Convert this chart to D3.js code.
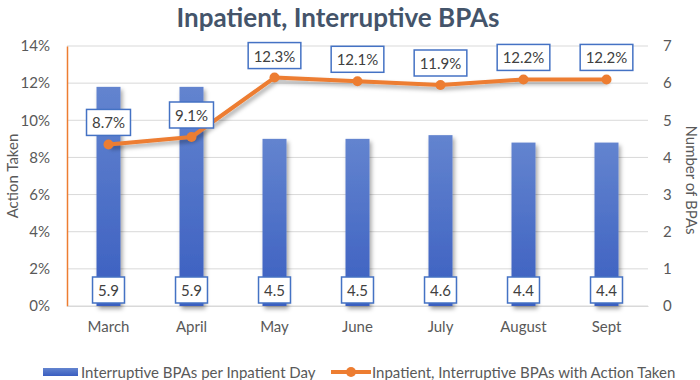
<!DOCTYPE html>
<html>
<head>
<meta charset="utf-8">
<script src="https://cdnjs.cloudflare.com/ajax/libs/d3/7.8.5/d3.min.js"></script>
<style>
  body { margin: 0; background: #fff; }
  svg { font-family: Lato, "Open Sans", sans-serif; }
</style>
</head>
<body>
<div id="plot"></div>
<script>
const months = ['March', 'April', 'May', 'June', 'July', 'August', 'Sept']
const bpasPerDay = [5.9, 5.9, 4.5, 4.5, 4.6, 4.4, 4.4]
const actionTaken = [8.7, 9.1, 12.3, 12.1, 11.9, 12.2, 12.2]
const leftTicks = [0, 2, 4, 6, 8, 10, 12, 14]
const rightTicks = [0, 1, 2, 3, 4, 5, 6, 7]
const barName = 'Interruptive BPAs per Inpatient Day'
const lineName = 'Inpatient, Interruptive BPAs with Action Taken'

const width = 700, height = 380
const plotL = 67, plotR = 648, plotT = 46, plotB = 306
const blue = '#4472C4', orange = '#ED7D31', textCol = '#595959'

const svg = d3.select('#plot').append('svg')
  .attr('width', width).attr('height', height)

const defs = svg.append('defs')
const grad = defs.append('linearGradient').attr('id', 'barGrad')
  .attr('x1', 0).attr('y1', 0).attr('x2', 0).attr('y2', 1)
grad.append('stop').attr('offset', '0%').attr('stop-color', '#6384cf')
grad.append('stop').attr('offset', '100%').attr('stop-color', '#3a5ec0')
const shadow = defs.append('filter').attr('id', 'shadow')
  .attr('x', '-20%').attr('y', '-20%').attr('width', '150%').attr('height', '150%')
shadow.append('feDropShadow').attr('dx', 2).attr('dy', 3).attr('stdDeviation', 2)
  .attr('flood-color', '#000').attr('flood-opacity', 0.35)

const x = d3.scaleBand().domain(months).range([plotL, plotR])
const yLeft = d3.scaleLinear().domain([0, 14]).range([plotB, plotT])
const yRight = d3.scaleLinear().domain([0, 7]).range([plotB, plotT])

// title
svg.append('text')
  .attr('x', 338).attr('y', 27)
  .attr('text-anchor', 'middle')
  .attr('font-size', 26).attr('font-weight', 'bold')
  .attr('fill', '#44546A')
  .text('Inpatient, Interruptive BPAs')

// gridlines
svg.append('g').selectAll('line').data(leftTicks).enter()
  .append('line')
  .attr('x1', plotL).attr('x2', plotR)
  .attr('y1', d => yLeft(d)).attr('y2', d => yLeft(d))
  .attr('stroke', '#d9d9d9').attr('stroke-width', 1)

// left axis
const gL = svg.append('g').attr('transform', 'translate(' + plotL + ',0)')
  .call(d3.axisLeft(yLeft).tickValues(leftTicks).tickSize(0).tickPadding(17).tickFormat(d => d + '%'))
gL.select('.domain').attr('stroke', orange).attr('stroke-width', 1.5)
gL.selectAll('text').attr('font-size', 15).attr('fill', textCol)

// right axis
const gR = svg.append('g').attr('transform', 'translate(' + plotR + ',0)')
  .call(d3.axisRight(yRight).tickValues(rightTicks).tickSize(0).tickPadding(15).tickFormat(d3.format('d')))
gR.select('.domain').remove()
gR.selectAll('text').attr('font-size', 15).attr('fill', textCol)

// bottom axis
const gB = svg.append('g').attr('transform', 'translate(0,' + plotB + ')')
  .call(d3.axisBottom(x).tickSize(0).tickPadding(15))
gB.select('.domain').attr('stroke', '#d9d9d9')
gB.selectAll('text').attr('font-size', 15).attr('fill', textCol)
gL.attr('font-family', null); gR.attr('font-family', null); gB.attr('font-family', null)

// axis titles
svg.append('text')
  .attr('transform', 'translate(18,176) rotate(-90)')
  .attr('text-anchor', 'middle').attr('font-size', 15).attr('fill', textCol)
  .text('Action Taken')
svg.append('text')
  .attr('transform', 'translate(686,180) rotate(90)')
  .attr('text-anchor', 'middle').attr('font-size', 15).attr('fill', textCol)
  .text('Number of BPAs')

// bars
const barW = 24
svg.append('g').selectAll('rect').data(bpasPerDay).enter()
  .append('rect')
  .attr('x', (d, i) => x(months[i]) + x.bandwidth() / 2 - barW / 2)
  .attr('y', d => yRight(d))
  .attr('width', barW)
  .attr('height', d => plotB - yRight(d))
  .attr('fill', 'url(#barGrad)')
  .attr('filter', 'url(#shadow)')

// line
const line = d3.line()
  .x((d, i) => x(months[i]) + x.bandwidth() / 2)
  .y(d => yLeft(d))
svg.append('path').datum(actionTaken)
  .attr('d', line)
  .attr('fill', 'none').attr('stroke', orange).attr('stroke-width', 4)
  .attr('stroke-linejoin', 'round')
  .attr('filter', 'url(#shadow)')
svg.append('g').selectAll('circle').data(actionTaken).enter()
  .append('circle')
  .attr('cx', (d, i) => x(months[i]) + x.bandwidth() / 2)
  .attr('cy', d => yLeft(d))
  .attr('r', 5).attr('fill', orange)

// boxed data labels
function boxLabel(g, cx, cy, txt) {
  const t = g.append('text')
    .attr('x', cx).attr('y', cy)
    .attr('text-anchor', 'middle').attr('dominant-baseline', 'central')
    .attr('font-size', 15).attr('fill', '#404040')
    .text(txt)
  const w = t.node().getComputedTextLength() + 11
  g.insert('rect', 'text')
    .attr('x', cx - w / 2).attr('y', cy - 13)
    .attr('width', w).attr('height', 26)
    .attr('fill', '#fff').attr('stroke', blue).attr('stroke-width', 1.5)
}

bpasPerDay.forEach((d, i) => {
  boxLabel(svg.append('g'), x(months[i]) + x.bandwidth() / 2, 290, d.toFixed(1))
})
actionTaken.forEach((d, i) => {
  boxLabel(svg.append('g'), x(months[i]) + x.bandwidth() / 2, yLeft(d) - 22, d.toFixed(1) + '%')
})

// legend
const leg = svg.append('g')
leg.append('rect')
  .attr('x', 43).attr('y', 368).attr('width', 35).attr('height', 8)
  .attr('fill', 'url(#barGrad)')
leg.append('text')
  .attr('x', 81).attr('y', 372).attr('dominant-baseline', 'central')
  .attr('font-size', 15).attr('fill', textCol)
  .text(barName)
leg.append('line')
  .attr('x1', 331).attr('x2', 371).attr('y1', 372).attr('y2', 372)
  .attr('stroke', orange).attr('stroke-width', 4)
leg.append('circle').attr('cx', 351).attr('cy', 372).attr('r', 5).attr('fill', orange)
leg.append('text')
  .attr('x', 372).attr('y', 372).attr('dominant-baseline', 'central')
  .attr('font-size', 15).attr('fill', textCol)
  .text(lineName)
</script>
</body>
</html>
